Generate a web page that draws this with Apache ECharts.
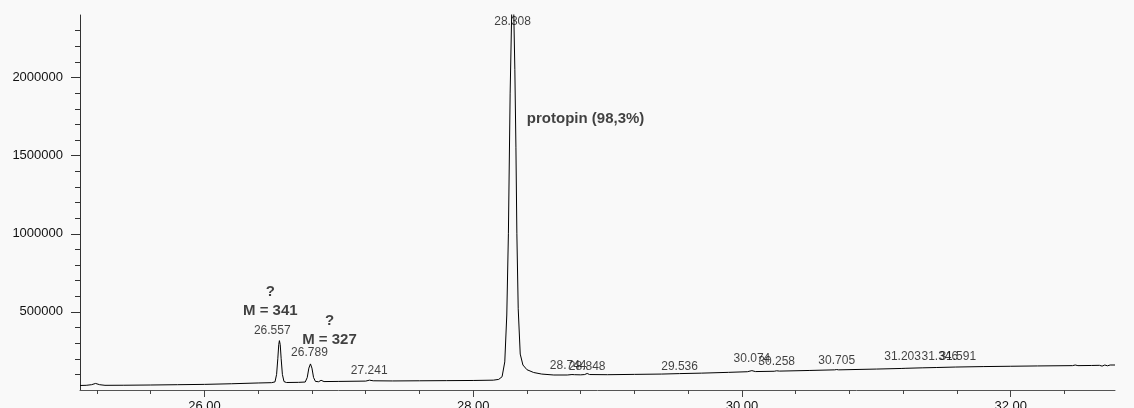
<!DOCTYPE html>
<html><head><meta charset="utf-8">
<script src="https://cdn.jsdelivr.net/npm/echarts@6/dist/echarts.min.js"></script>
<style>html,body{margin:0;padding:0;background:#f9f9f9;} #c{width:1134px;height:408px;}</style>
</head><body><div id="c"></div>
<script>
// ---- data ----
const times = [25.074, 25.12, 25.16, 25.19, 25.22, 25.26, 25.40, 25.60, 25.80, 26.00, 26.20, 26.40, 26.50, 26.525, 26.537, 26.546, 26.553, 26.558, 26.564, 26.571, 26.580, 26.592, 26.61, 26.70, 26.75, 26.765, 26.777, 26.789, 26.80, 26.812, 26.826, 26.85, 26.868, 26.878, 26.89, 27.00, 27.20, 27.228, 27.241, 27.256, 27.40, 27.60, 27.80, 28.00, 28.15, 28.19, 28.215, 28.235, 28.25, 28.262, 28.275, 28.288, 28.300, 28.310, 28.318, 28.325, 28.335, 28.35, 28.37, 28.40, 28.45, 28.51, 28.60, 28.70, 28.735, 28.744, 28.755, 28.80, 28.83, 28.848, 28.866, 29.00, 29.20, 29.40, 29.536, 29.70, 29.90, 30.04, 30.074, 30.10, 30.24, 30.258, 30.28, 30.50, 30.69, 30.705, 30.72, 31.00, 31.19, 31.203, 31.22, 31.346, 31.45, 31.591, 31.80, 32.00, 32.20, 32.46, 32.48, 32.50, 32.60, 32.66, 32.68, 32.70, 32.72, 32.74, 32.776];
const intensities = [29000, 30000, 34000, 42000, 34000, 30000, 30500, 32000, 34000, 36000, 40000, 45000, 47000, 52000, 100000, 200000, 290000, 316000, 290000, 200000, 100000, 54000, 48000, 49000, 51000, 80000, 140000, 167000, 140000, 80000, 55000, 53000, 62000, 58000, 54000, 55000, 57000, 63000, 66000, 59000, 58000, 59000, 60000, 61000, 63000, 68000, 85000, 180000, 480000, 1000000, 1900000, 2480000, 2500000, 2050000, 1550000, 1000000, 520000, 230000, 160000, 130000, 112000, 102000, 96000, 96000, 99000, 102000, 98000, 97000, 99000, 106000, 99000, 98000, 100000, 102000, 105000, 108000, 113000, 117000, 124000, 118000, 120000, 123000, 121000, 125000, 129000, 131000, 129000, 134000, 138000, 141000, 139000, 142000, 144000, 147000, 150000, 152000, 154000, 156000, 160000, 156000, 157000, 158000, 153000, 160000, 155000, 160000, 160000];

const peakTimes   = [26.557, 26.789, 27.241, 28.308, 28.744, 28.848, 29.536, 30.074, 30.258, 30.705, 31.203, 31.346, 31.591];
const peakHeights = [316000, 167000, 66000, 2500000, 102000, 106000, 105000, 124000, 123000, 131000, 141000, 142000, 147000];

const annotationPeaks = [0, 1, 3];
const annotationTexts = [['?', 'M = 341'], ['?', 'M = 327'], ['protopin (98,3%)']];

const xMin = 25.074, xMax = 32.776, yMin = 0, yMax = 2400000;
const xMajorTicks = [26, 28, 30, 32];
const xMinorTicks = [25.2, 25.6, 26.0, 26.4, 26.8, 27.2, 27.6, 28.0, 28.4, 28.8, 29.2, 29.6, 30.0, 30.4, 30.8, 31.2, 31.6, 32.0, 32.4];
const yMajorTicks = [500000, 1000000, 1500000, 2000000];
const yMinorTicks = [100000, 200000, 300000, 400000, 500000, 600000, 700000, 800000, 900000, 1000000, 1100000, 1200000, 1300000, 1400000, 1500000, 1600000, 1700000, 1800000, 1900000, 2000000, 2100000, 2200000, 2300000];

// ---- styling (label offsets in px relative to the peak apex) ----
const peakLabelOffsets = [[-7,-10],[-1,-11],[-2,-9],[-2,7],[-5,-8],[0,-7],[0,-7],[0,-12],[0,-9],[0,-9],[-1,-11],[17,-11],[2,-10]];
const annotationOffsets = [[-9,-39],[19,-34],[71,104]];

const FONT = '"Liberation Sans", Arial, sans-serif';
const chart = echarts.init(document.getElementById('c'), null, {renderer: 'canvas'});

const series = [{
  type: 'line',
  data: times.map((t, i) => [t, intensities[i]]),
  showSymbol: false, symbol: 'none', smooth: false, clip: true,
  lineStyle: {color: '#000', width: 1},
  silent: true, animation: false, z: 3
}, {
  type: 'scatter',
  symbolSize: 0,
  silent: true, animation: false, z: 5,
  clip: false,
  data: peakTimes.map((t, i) => ({
    value: [t, Math.min(peakHeights[i], yMax)],
    label: {show: true, position: 'inside', offset: peakLabelOffsets[i], formatter: t.toFixed(3),
            color: '#111', fontSize: 12, fontFamily: FONT}
  }))
}, {
  type: 'scatter',
  symbolSize: 0,
  silent: true, animation: false, z: 6,
  clip: false,
  data: annotationPeaks.map((p, i) => ({
    value: [peakTimes[p], Math.min(peakHeights[p], yMax)],
    label: {show: true, position: 'inside', offset: annotationOffsets[i],
            formatter: annotationTexts[i].join('\n'),
            color: '#111', fontSize: 15, fontWeight: 'bold', fontFamily: FONT, lineHeight: 19, align: 'center'}
  }))
}];

chart.setOption({
  backgroundColor: '#f9f9f9',
  animation: false,
  grid: {left: 80, right: 19, top: 15, bottom: 18, containLabel: false, outerBoundsMode: 'none'},
  xAxis: [{
    type: 'value', min: xMin, max: xMax, position: 'bottom',
    axisLine: {show: true, onZero: false, lineStyle: {color: '#555', width: 1}},
    axisTick: {show: true, length: 7, customValues: xMajorTicks, lineStyle: {color: '#444'}},
    axisLabel: {show: true, customValues: xMajorTicks, margin: 10, formatter: v => v.toFixed(2),
                color: '#111', fontSize: 13, fontFamily: FONT},
    splitLine: {show: false}
  }, {
    type: 'value', min: xMin, max: xMax, position: 'bottom',
    axisLine: {show: false, onZero: false},
    axisTick: {show: true, length: 4, customValues: xMinorTicks, lineStyle: {color: '#444'}},
    axisLabel: {show: false},
    splitLine: {show: false}
  }],
  yAxis: [{
    type: 'value', min: yMin, max: yMax, position: 'left',
    axisLine: {show: true, onZero: false, lineStyle: {color: '#333', width: 1}},
    axisTick: {show: true, length: 9, customValues: yMajorTicks, lineStyle: {color: '#333'}},
    axisLabel: {show: true, customValues: yMajorTicks, margin: 17, formatter: v => String(v),
                color: '#111', fontSize: 13, fontFamily: FONT},
    splitLine: {show: false}
  }, {
    type: 'value', min: yMin, max: yMax, position: 'left',
    axisLine: {show: false, onZero: false},
    axisTick: {show: true, length: 5, customValues: yMinorTicks, lineStyle: {color: '#333'}},
    axisLabel: {show: false},
    splitLine: {show: false}
  }],
  series: series
});
</script>
</body></html>
